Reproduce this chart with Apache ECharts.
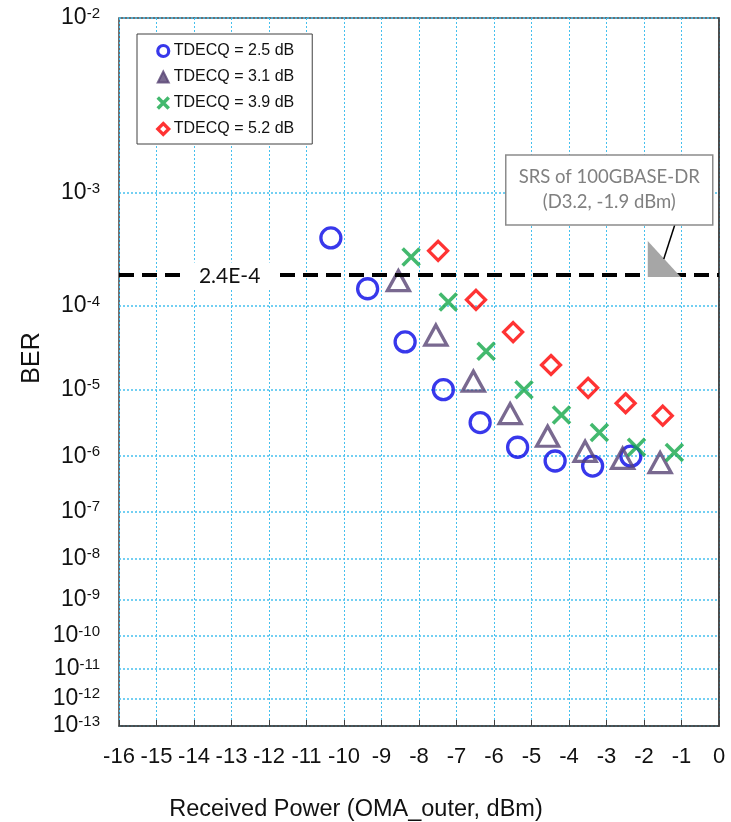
<!DOCTYPE html>
<html>
<head>
<meta charset="utf-8">
<script src="https://cdn.jsdelivr.net/npm/echarts@6/dist/echarts.min.js"></script>
<style>
html,body{margin:0;padding:0;background:#fff;}
#main{width:731px;height:822px;}
</style>
</head>
<body>
<div id="main"></div>
<script>
// ---- data ----
const seriesNames = ['TDECQ = 2.5 dB', 'TDECQ = 3.1 dB', 'TDECQ = 3.9 dB', 'TDECQ = 5.2 dB'];
const powerA = [-10.35, -9.37, -8.37, -7.35, -6.37, -5.37, -4.37, -3.37, -2.35];
const berA   = [4.4e-4, 1.5e-4, 4.0e-5, 1.0e-5, 3.4e-6, 1.4e-6, 8.3e-7, 6.8e-7, 1.0e-6];
const powerB = [-8.55, -7.55, -6.55, -5.57, -4.57, -3.57, -2.57, -1.57];
const berB   = [1.8e-4, 4.8e-5, 1.3e-5, 4.6e-6, 2.1e-6, 1.2e-6, 9.2e-7, 7.8e-7];
const powerC = [-8.21, -7.22, -6.21, -5.2, -4.2, -3.19, -2.2, -1.19];
const berC   = [3.0e-4, 1.1e-4, 3.1e-5, 1.0e-5, 4.4e-6, 2.4e-6, 1.4e-6, 1.15e-6];
const powerD = [-7.49, -6.48, -5.49, -4.48, -3.49, -2.49, -1.5];
const berD   = [3.4e-4, 1.16e-4, 5.2e-5, 2.1e-5, 1.06e-5, 6.5e-6, 4.3e-6];
const yExponents = [-2, -3, -4, -5, -6, -7, -8, -9, -10, -11, -12, -13];
const xMin = -16, xMax = 0, xStep = 1;
const thresholdBer = 2.0e-4;
const thresholdLabel = '2.4E-4';
const srsPower = -1.9;
const srsText = 'SRS of 100GBASE-DR\n(D3.2, -1.9 dBm)';

// ---- BER scale: log10(-log10(BER) - 0.6), increasing upward ----
const OFF = 0.6;
function toY(ber) { return -Math.log10(-Math.log10(ber) - OFF); }
function fromYExp(v) { return Math.round(Math.pow(10, -v) + OFF); }
const yTicks = yExponents.map(e => toY(Math.pow(10, e)));
const yMin = toY(1e-13), yMax = toY(1e-2);

function pairs(xs, ys) { return xs.map((x, i) => [x, toY(ys[i])]); }

const colBlue = '#0606e6', colPurple = '#574374', colGreen = '#14a84a', colRed = '#ff0000';
const colGrid = '#45c0ee';
const xPath = 'path://M0,0L10,10M10,0L0,10';

const chart = echarts.init(document.getElementById('main'));
const option = {
  animation: false,
  backgroundColor: '#fff',
  grid: { left: 119, right: 12, top: 18, bottom: 96, show: true, borderColor: '#404040', borderWidth: 1.5, backgroundColor: 'transparent' },
  legend: {
    orient: 'vertical', left: 137, top: 34,
    backgroundColor: '#fff', borderColor: '#404040', borderWidth: 1,
    padding: [9, 18, 7, 19], itemGap: 10, itemWidth: 11, itemHeight: 11,
    textStyle: { fontFamily: 'Liberation Sans', fontSize: 16, color: '#111' },
    data: [
      { name: seriesNames[0], icon: 'circle', itemStyle: { color: 'transparent', borderColor: colBlue, borderWidth: 3.2 } },
      { name: seriesNames[1], icon: 'triangle', itemStyle: { color: colPurple, borderColor: colPurple, borderWidth: 2 } },
      { name: seriesNames[2], icon: xPath, itemStyle: { color: 'transparent', borderColor: colGreen, borderWidth: 3.5 } },
      { name: seriesNames[3], icon: 'diamond', itemStyle: { color: 'transparent', borderColor: colRed, borderWidth: 3.2 } }
    ]
  },
  xAxis: {
    type: 'value', min: xMin, max: xMax, interval: xStep,
    axisLine: { show: true, lineStyle: { color: '#404040', width: 1.5 } },
    axisTick: { show: true, inside: true, length: 6, lineStyle: { color: '#404040' } },
    axisLabel: { fontFamily: 'Liberation Sans', fontSize: 22, color: '#111', margin: 20 },
    splitLine: { show: true, lineStyle: { color: colGrid, type: [2, 2], width: 1 } }
  },
  yAxis: {
    type: 'value', min: yMin, max: yMax,
    axisLine: { show: true, lineStyle: { color: '#404040', width: 1.5 } },
    axisTick: { show: false, customValues: yTicks },
    axisLabel: {
      customValues: yTicks, margin: 19, color: '#111',
      formatter: v => '{b|10}{s|-' + fromYExp(v) + '}',
      rich: {
        b: { fontFamily: 'Liberation Sans', fontSize: 23, lineHeight: 24, color: '#111' },
        s: { fontFamily: 'Liberation Sans', fontSize: 15, lineHeight: 15, verticalAlign: 'top', color: '#111' }
      }
    },
    splitLine: { show: true, lineStyle: { color: colGrid, type: [2, 2], width: 1.5 } }
  },
  series: [
    { name: seriesNames[0], type: 'scatter', data: pairs(powerA, berA), symbol: 'circle', symbolSize: 20,
      itemStyle: { color: 'transparent', borderColor: colBlue, borderWidth: 3.3 }, z: 3,
      markLine: { silent: true, symbol: 'none', label: { show: false },
        lineStyle: { color: '#000', width: 4, type: [15, 8] },
        data: [{ yAxis: toY(thresholdBer) }] } },
    { name: seriesNames[1], type: 'scatter', data: pairs(powerB, berB), symbol: 'triangle', symbolSize: [22, 20],
      itemStyle: { color: 'transparent', borderColor: colPurple, borderWidth: 3.3 }, z: 3 },
    { name: seriesNames[2], type: 'scatter', data: pairs(powerC, berC), symbol: xPath, symbolSize: 17,
      itemStyle: { color: 'transparent', borderColor: colGreen, borderWidth: 3.6 }, z: 3 },
    { name: seriesNames[3], type: 'scatter', data: pairs(powerD, berD), symbol: 'diamond', symbolSize: 19,
      itemStyle: { color: 'transparent', borderColor: colRed, borderWidth: 3.3 }, z: 3 }
  ]
};
chart.setOption(option);

// annotations anchored to data coordinates
const pThr = chart.convertToPixel('grid', [-13.05, toY(thresholdBer)]);
const pSrs = chart.convertToPixel('grid', [srsPower, toY(thresholdBer)]);
chart.setOption({
  graphic: [
    { type: 'text', z: 10, x: pThr[0], y: pThr[1],
      style: { text: thresholdLabel, x: 0, y: 0, align: 'center', verticalAlign: 'middle',
        font: '21px Lato', fill: '#111', backgroundColor: '#fff', padding: [3, 14] } },
    { type: 'polygon', z: 10,
      shape: { points: [[pSrs[0], pSrs[1] - 35], [pSrs[0], pSrs[1] + 1], [pSrs[0] + 33, pSrs[1] + 1]] },
      style: { fill: '#a6a6a6' } },
    { type: 'line', z: 10,
      shape: { x1: pSrs[0] + 16, y1: pSrs[1] - 17, x2: pSrs[0] + 27, y2: pSrs[1] - 51 },
      style: { stroke: '#000', lineWidth: 1.5 } },
    { type: 'rect', z: 11,
      shape: { x: pSrs[0] - 142, y: pSrs[1] - 121, width: 207, height: 70 },
      style: { fill: '#fff', stroke: '#8c8c8c', lineWidth: 1.5 } },
    { type: 'text', z: 12,
      style: { text: srsText, x: pSrs[0] - 38.5, y: pSrs[1] - 86, align: 'center', verticalAlign: 'middle',
        font: '18.5px Lato', fill: '#808080', lineHeight: 25 } },
    { type: 'text', z: 10,
      style: { text: 'BER', x: 0, y: 0, align: 'center', verticalAlign: 'middle', font: '25px Liberation Sans', fill: '#111' },
      x: 32, y: 358, rotation: Math.PI / 2 },
    { type: 'text', z: 10,
      style: { text: 'Received Power (OMA_outer, dBm)', x: 356, y: 810, align: 'center', verticalAlign: 'middle',
        font: '23.5px Liberation Sans', fill: '#111' } }
  ]
});
</script>
</body>
</html>
